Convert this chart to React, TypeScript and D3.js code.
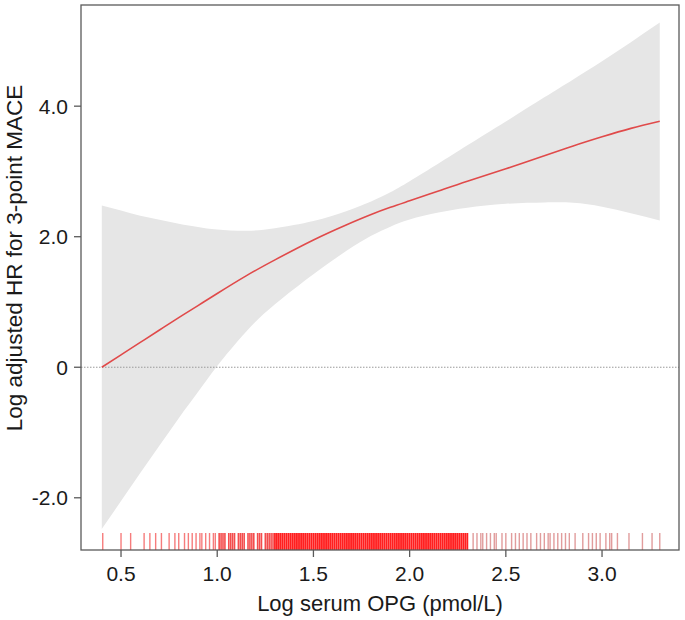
import * as d3 from "d3";

// fitted spline (log HR) and 95% CI band
const xs = [0.4, 0.5, 0.6, 0.7, 0.8, 0.9, 1.0, 1.15, 1.3, 1.5, 1.67, 1.8, 1.9, 2.0, 2.15, 2.3, 2.5, 2.7, 2.85, 3.0, 3.15, 3.3];
const fit = [0.0, 0.19, 0.38, 0.57, 0.76, 0.945, 1.13, 1.40, 1.645, 1.95, 2.18, 2.34, 2.45, 2.55, 2.70, 2.85, 3.04, 3.24, 3.39, 3.53, 3.66, 3.77];
const upper = [2.48, 2.40, 2.32, 2.26, 2.2, 2.15, 2.11, 2.09, 2.13, 2.24, 2.39, 2.54, 2.68, 2.85, 3.12, 3.40, 3.765, 4.135, 4.41, 4.69, 4.98, 5.28];
const lower = [-2.48, -2.05, -1.62, -1.2, -0.78, -0.38, 0.02, 0.545, 0.965, 1.425, 1.78, 2.014, 2.154, 2.264, 2.369, 2.444, 2.504, 2.524, 2.52, 2.46, 2.36, 2.25];

// rug of observed log OPG values
const rugLow = [
  0.405, 0.5, 0.55, 0.62, 0.65, 0.68, 0.71, 0.75, 0.78, 0.8, 0.83, 0.85, 0.87, 0.89, 0.91, 0.92, 0.94, 0.96, 0.98, 0.99,
];
const rugMid = [
  1.01, 1.02, 1.03, 1.04, 1.06, 1.07, 1.08, 1.09, 1.11, 1.12, 1.13, 1.14, 1.16, 1.17, 1.18, 1.19, 1.21, 1.22, 1.23, 1.25,
  1.26, 1.27, 1.28, 1.29,
];
const rugDense = [
  1.3, 1.31, 1.32, 1.33, 1.34, 1.35, 1.36, 1.37, 1.38, 1.39, 1.4, 1.41, 1.42, 1.43, 1.44, 1.45, 1.46, 1.47, 1.48, 1.49,
  1.5, 1.51, 1.52, 1.53, 1.54, 1.55, 1.56, 1.57, 1.58, 1.59, 1.6, 1.61, 1.62, 1.63, 1.64, 1.65, 1.66, 1.67, 1.68, 1.69,
  1.7, 1.71, 1.72, 1.73, 1.74, 1.75, 1.76, 1.77, 1.78, 1.79, 1.8, 1.81, 1.82, 1.83, 1.84, 1.85, 1.86, 1.87, 1.88, 1.89,
  1.9, 1.91, 1.92, 1.93, 1.94, 1.95, 1.96, 1.97, 1.98, 1.99, 2.0, 2.01, 2.02, 2.03, 2.04, 2.05, 2.06, 2.07, 2.08, 2.09,
  2.1, 2.11, 2.12, 2.13, 2.14, 2.15, 2.16, 2.17, 2.18, 2.19, 2.2, 2.21, 2.22, 2.23, 2.24, 2.25, 2.26, 2.27, 2.28, 2.29, 2.3,
];
const rugHigh = [
  2.33, 2.35, 2.37, 2.38, 2.4, 2.42, 2.44, 2.45, 2.48, 2.5, 2.53, 2.55, 2.57, 2.59, 2.61, 2.63, 2.66, 2.68, 2.7, 2.72,
  2.73, 2.75, 2.77, 2.79, 2.81, 2.83, 2.86, 2.9, 2.93, 2.95, 2.97, 2.99, 3.02, 3.04, 3.05, 3.08, 3.14, 3.21, 3.26, 3.3,
];

const xTicks = [0.5, 1.0, 1.5, 2.0, 2.5, 3.0];
const yTicks = [-2, 0, 2, 4];
const yTickLabels = ["-2.0", "0", "2.0", "4.0"];

const width = 685;
const height = 620;
const frame = { left: 81, right: 679, top: 5, bottom: 550 };
const font = "'Liberation Sans', Arial, sans-serif";

export default function App() {
  const x = d3.scaleLinear().domain([0.292, 3.4]).range([frame.left, frame.right]);
  const y = d3.scaleLinear().domain([-2.8, 5.55]).range([frame.bottom, frame.top]);

  const idx = xs.map((_, i) => i);
  const band = d3.area<number>()
    .x((i) => x(xs[i]))
    .y0((i) => y(lower[i]))
    .y1((i) => y(upper[i]))
    .curve(d3.curveNatural);
  const line = d3.line<number>()
    .x((i) => x(xs[i]))
    .y((i) => y(fit[i]))
    .curve(d3.curveNatural);

  const rugTop = 533;
  const rug = (values: number[], key: string, color: string, opacity: number, w: number) =>
    values.map((v, i) => (
      <line key={`${key}-${i}`} x1={x(v)} x2={x(v)} y1={rugTop} y2={frame.bottom} stroke={color} strokeOpacity={opacity} strokeWidth={w} />
    ));

  return (
    <div style={{ position: "absolute", left: 0, top: 0 }}>
      <svg width={width} height={height} style={{ display: "block", background: "#fff" }}>
        <path d={band(idx) ?? ""} fill="#e6e6e6" />

        <line x1={frame.left} x2={frame.right} y1={y(0)} y2={y(0)} stroke="#9a9a9a" strokeWidth={1} strokeDasharray="1.5 1.5" />

        <path d={line(idx) ?? ""} fill="none" stroke="#e04a4a" strokeWidth={1.6} />

        {rug(rugLow, "l", "#ee1010", 0.55, 1.4)}
        {rug(rugMid, "m", "#f00000", 0.7, 1.6)}
        {rug(rugDense, "d", "#ff0000", 0.88, 1.8)}
        {rug(rugHigh, "h", "#c43a3a", 0.5, 1.4)}

        <rect x={frame.left} y={frame.top} width={frame.right - frame.left} height={frame.bottom - frame.top} fill="none" stroke="#5a5a5a" strokeWidth={1.3} />

        {xTicks.map((t) => (
          <g key={`x-${t}`}>
            <line x1={x(t)} x2={x(t)} y1={frame.bottom} y2={frame.bottom + 7} stroke="#5a5a5a" strokeWidth={1.3} />
            <text x={x(t)} y={581} textAnchor="middle" fontFamily={font} fontSize={21} fill="#1a1a1a">{t.toFixed(1)}</text>
          </g>
        ))}
        {yTicks.map((t, i) => (
          <g key={`y-${t}`}>
            <line x1={frame.left - 7} x2={frame.left} y1={y(t)} y2={y(t)} stroke="#5a5a5a" strokeWidth={1.3} />
            <text x={frame.left - 13} y={y(t)} dy="0.36em" textAnchor="end" fontFamily={font} fontSize={21} fill="#1a1a1a">{yTickLabels[i]}</text>
          </g>
        ))}

        <text x={(frame.left + frame.right) / 2} y={611} textAnchor="middle" fontFamily={font} fontSize={22} fill="#1a1a1a">Log serum OPG (pmol/L)</text>
        <text transform="translate(22, 258) rotate(-90)" textAnchor="middle" fontFamily={font} fontSize={22.5} fill="#1a1a1a">Log adjusted HR for 3-point MACE</text>
      </svg>
    </div>
  );
}
